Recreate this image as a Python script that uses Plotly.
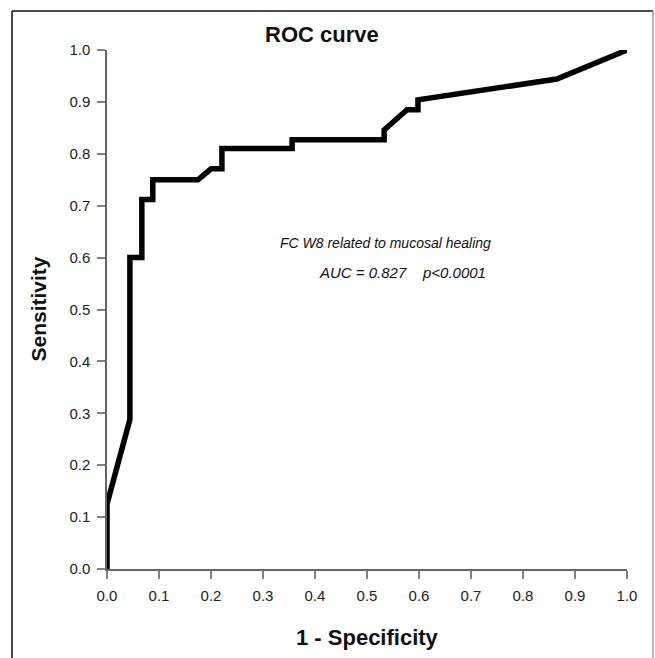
import plotly.graph_objects as go

# ROC curve points
fpr = [0, 0, 0.044, 0.044, 0.067, 0.067, 0.088, 0.088, 0.175, 0.2, 0.221, 0.221,
       0.356, 0.356, 0.533, 0.533, 0.577, 0.598, 0.598, 0.865, 1.0]
tpr = [0, 0.125, 0.288, 0.6, 0.6, 0.712, 0.712, 0.75, 0.75, 0.771, 0.771, 0.81,
       0.81, 0.827, 0.827, 0.846, 0.885, 0.885, 0.904, 0.944, 1.0]
tick_vals = [0.0, 0.1, 0.2, 0.3, 0.4, 0.5, 0.6, 0.7, 0.8, 0.9, 1.0]
tick_text = ["0.0", "0.1", "0.2", "0.3", "0.4", "0.5", "0.6", "0.7", "0.8", "0.9", "1.0"]

FONT = "Arial, Liberation Sans, sans-serif"
W, H = 655, 658
L, R, T, B = 107, 28, 50, 89
PW, PH = W - L - R, H - T - B

def px(x):
    return (x - L) / PW

def py(y):
    return (H - B - y) / PH

fig = go.Figure()
fig.add_trace(go.Scatter(
    x=fpr, y=tpr, mode="lines",
    line=dict(color="black", width=5.5),
    cliponaxis=False, showlegend=False, hoverinfo="skip",
))

axis_common = dict(
    range=[0, 1], tickvals=tick_vals, ticktext=tick_text,
    showgrid=False, zeroline=False, showline=True,
    linecolor="#666666", linewidth=1.5,
    ticks="outside", ticklen=8, tickwidth=1.5, tickcolor="#808080",
    tickfont=dict(family=FONT, size=15, color="#222222"),
    ticklabelstandoff=4,
    fixedrange=True,
)
fig.update_xaxes(**axis_common)
fig.update_yaxes(**axis_common)

annotations = [
    dict(text="<i>FC W8 related to mucosal healing</i>", x=px(385), y=py(243),
         font=dict(family=FONT, size=14, color="#111111"), xanchor="center", yanchor="middle"),
    dict(text="<i>AUC = 0.827    p&lt;0.0001</i>", x=px(402), y=py(272),
         font=dict(family=FONT, size=15, color="#111111"), xanchor="center", yanchor="middle"),
    dict(text="<b>1 - Specificity</b>", x=0.5, y=py(637),
         font=dict(family=FONT, size=22, color="#111111"), xanchor="center", yanchor="middle"),
    dict(text="<b>Sensitivity</b>", x=px(38), y=0.5, textangle=-90,
         font=dict(family=FONT, size=21, color="#111111"), xanchor="center", yanchor="middle"),
    dict(text="<b>ROC curve</b>", x=px(322), y=py(35),
         font=dict(family=FONT, size=22, color="#111111"), xanchor="center", yanchor="middle"),
]
for a in annotations:
    a.update(xref="paper", yref="paper", showarrow=False)

shapes = [
    dict(type="line", x0=px(12), x1=px(12), y0=py(11), y1=py(670),
         line=dict(color="#111111", width=1.5)),
    dict(type="line", x0=px(12), x1=px(653), y0=py(11), y1=py(11),
         line=dict(color="#111111", width=1.5)),
    dict(type="line", x0=px(653), x1=px(653), y0=py(11), y1=py(670),
         line=dict(color="#9a9a9a", width=1.5)),
]
for s in shapes:
    s.update(xref="paper", yref="paper", layer="above")

fig.update_layout(
    width=W, height=H,
    margin=dict(l=L, r=R, t=T, b=B),
    paper_bgcolor="white", plot_bgcolor="white",
    annotations=annotations, shapes=shapes,
    showlegend=False,
)

fig.write_html(
    "out.html",
    config={"displayModeBar": False},
    post_script="document.body.style.margin='0';",
)
